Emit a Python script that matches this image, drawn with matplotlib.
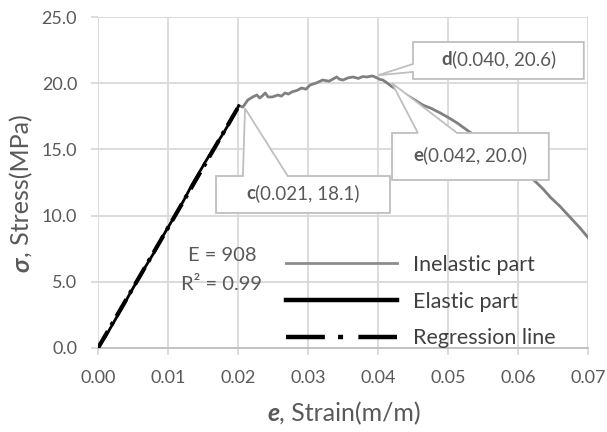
import matplotlib
matplotlib.use("Agg")
import matplotlib.pyplot as plt
from matplotlib.lines import Line2D
from matplotlib.patches import Polygon

# ---------------- data ----------------
elastic_strain = [0.0, 0.0010, 0.0022, 0.0034, 0.0046, 0.0065, 0.0080, 0.0091, 0.0110,
                  0.0122, 0.0134, 0.0155, 0.0168, 0.0180, 0.0192, 0.0201]
elastic_stress = [0.0, 0.8, 1.9, 3.0, 4.15, 5.9, 7.2, 8.3, 10.0,
                  11.1, 12.3, 14.2, 15.3, 16.3, 17.4, 18.3]

inelastic_strain = [0.0201, 0.0207, 0.0214, 0.0221, 0.0227, 0.0231, 0.0235, 0.0239, 0.0243,
                    0.0249, 0.0257, 0.0262, 0.0267, 0.0272, 0.0277, 0.0284, 0.0291, 0.0297,
                    0.0303, 0.0312, 0.0321, 0.0330, 0.0341, 0.0345, 0.0350, 0.0357, 0.0364,
                    0.0372, 0.0378, 0.0384, 0.0392, 0.0399, 0.0403, 0.0407, 0.0414, 0.0421,
                    0.0431, 0.0441, 0.0452, 0.0464, 0.0476, 0.0489, 0.0500, 0.0513, 0.0530,
                    0.0550, 0.0580, 0.0600, 0.0615, 0.0627, 0.0636, 0.0646, 0.0660, 0.0674,
                    0.0688, 0.0703]
inelastic_stress = [18.3, 18.2, 18.73, 18.96, 19.11, 18.88, 19.05, 19.26, 18.96,
                    18.96, 19.11, 19.02, 19.26, 19.18, 19.34, 19.45, 19.64, 19.55,
                    19.86, 20.02, 20.24, 20.15, 20.47, 20.30, 20.24, 20.40, 20.47,
                    20.36, 20.50, 20.47, 20.55, 20.39, 20.28, 20.24, 19.98, 19.7,
                    19.45, 19.1, 18.75, 18.35, 18.10, 17.75, 17.42, 17.0, 16.35,
                    15.6, 14.4, 13.5, 13.05, 12.46, 12.0, 11.4, 10.7, 9.9,
                    9.1, 8.16]

E_modulus = 908
R2 = 0.99
reg_strain = [0.0, 0.0201]

x_ticks = [0.00, 0.01, 0.02, 0.03, 0.04, 0.05, 0.06, 0.07]
y_ticks = [0.0, 5.0, 10.0, 15.0, 20.0, 25.0]

# annotated points: letter, strain, stress
ann_points = [("c", 0.021, 18.1), ("d", 0.040, 20.6), ("e", 0.042, 20.0)]

# ---------------- style ----------------
FONT = ["Lato", "DejaVu Sans"]
plt.rcParams["font.family"] = FONT
plt.rcParams["lines.scale_dashes"] = False
TXT = "#595959"
GRID = "#d9d9d9"

fig = plt.figure(figsize=(6.07, 4.32), dpi=100)
ax = fig.add_axes([98 / 607, 1 - 348 / 432, 490 / 607, 331 / 432])
ax.set_xlim(0, 0.07)
ax.set_ylim(0, 25)
ax.set_xticks(x_ticks)
ax.set_yticks(y_ticks)
ax.set_xticklabels([f"{v:.2f}" for v in x_ticks])
ax.set_yticklabels([f"{v:.1f}" for v in y_ticks])
ax.grid(True, color=GRID, linewidth=1.3, zorder=0)
ax.set_axisbelow(True)
for s in ["top", "right", "left"]:
    ax.spines[s].set_visible(False)
ax.spines["bottom"].set_color("#bfbfbf")
ax.spines["bottom"].set_linewidth(1.3)
ax.tick_params(axis="both", colors=GRID, labelcolor=TXT, labelsize=13, length=5, width=1.3)
ax.tick_params(axis="x", pad=11)
ax.tick_params(axis="y", pad=10)

# ---------------- lines ----------------
ax.plot(inelastic_strain, inelastic_stress, color="#808080", linewidth=2.0, zorder=3)
ax.plot(elastic_strain, elastic_stress, color="black", linewidth=2.0, zorder=4)
reg_stress = [E_modulus * v for v in reg_strain]
dashdot = (0, (28, 9.5, 3.6, 11))
ax.plot(reg_strain, reg_stress, color="black", linewidth=3.0, linestyle=(0, (14, 5, 2.5, 5)),
        zorder=5)

# legend
handles = [Line2D([], [], color="#8c8c8c", linewidth=2.0),
           Line2D([], [], color="black", linewidth=3.2),
           Line2D([], [], color="black", linewidth=3.2, linestyle=dashdot)]
labels = ["Inelastic part", "Elastic part", "Regression line"]
leg = ax.legend(handles, labels, loc="lower left", bbox_to_anchor=(0.345, -0.06),
                frameon=False, fontsize=15.5, handlelength=5.15, handletextpad=0.75,
                labelspacing=0.78, labelcolor="#404040")

# E / R2 text
ax.text(0.0177, 6.95, f"E = {E_modulus}", ha="center", va="center", fontsize=14.5, color=TXT)
ax.text(0.0177, 4.76, f"R² = {R2:.2f}", ha="center", va="center", fontsize=14.5, color=TXT)

# ---------------- callouts ----------------
# box geometry (layout only): x0, x1, y0, y1, wedge side, wedge base a, b
boxes = {
    "c": (0.01686, 0.04171, 10.20, 12.99, "top", 0.0207, 0.0271),
    "d": (0.0450, 0.0694, 20.32, 23.11, "left", 20.85, 21.45),
    "e": (0.0420, 0.0644, 12.69, 16.24, "top", 0.0457, 0.0513),
}

fig.canvas.draw()
renderer = fig.canvas.get_renderer()


def rich(pieces, x_px, y_px, rotation=0, fontsize=13, color=TXT):
    """Place text pieces side by side, centred along the baseline at (x_px, y_px) pixels."""
    objs = []
    for txt, weight, style in pieces:
        t = fig.text(0, 0, txt, fontsize=fontsize, fontweight=weight, fontstyle=style,
                     color=color, family=FONT, rotation=rotation, rotation_mode="anchor",
                     ha="left", va="baseline")
        objs.append(t)
    sizes = []
    for t in objs:
        bb = t.get_window_extent(renderer)
        sizes.append(bb.height if rotation == 90 else bb.width)
    total = sum(sizes)
    pos = -total / 2
    for t, s in zip(objs, sizes):
        if rotation == 90:
            t.set_position((x_px / fig.bbox.width, (y_px + pos) / fig.bbox.height))
        else:
            t.set_position(((x_px + pos) / fig.bbox.width, y_px / fig.bbox.height))
        pos += s
    return objs


for letter, px, py in ann_points:
    x0, x1, y0, y1, side, a, b = boxes[letter]
    if side == "top":
        verts = [(x0, y1), (a, y1), (px, py), (b, y1), (x1, y1), (x1, y0), (x0, y0)]
    else:
        verts = [(x0, y1), (x1, y1), (x1, y0), (x0, y0), (x0, a), (px, py), (x0, b)]
    poly = Polygon(verts, closed=True, facecolor="white", edgecolor="#bfbfbf",
                   linewidth=1.3, zorder=6)
    ax.add_patch(poly)
    cx, cy = ax.transData.transform(((x0 + x1) / 2, (y0 + y1) / 2))
    objs = rich([(letter, "bold", "normal"), (f"({px:.3f}, {py:.1f})", "normal", "normal")],
                cx, cy - 5, fontsize=13.5)
    for o in objs:
        o.set_zorder(7)

# axis labels
rich([("e", "bold", "italic"), (", Strain(m/m)", "normal", "normal")], 344, 432 - 421,
     fontsize=18)
rich([("σ", "bold", "italic"), (", Stress(MPa)", "normal", "normal")], 29, 432 - 193,
     rotation=90, fontsize=18)

fig.savefig("out.png", dpi=100)
